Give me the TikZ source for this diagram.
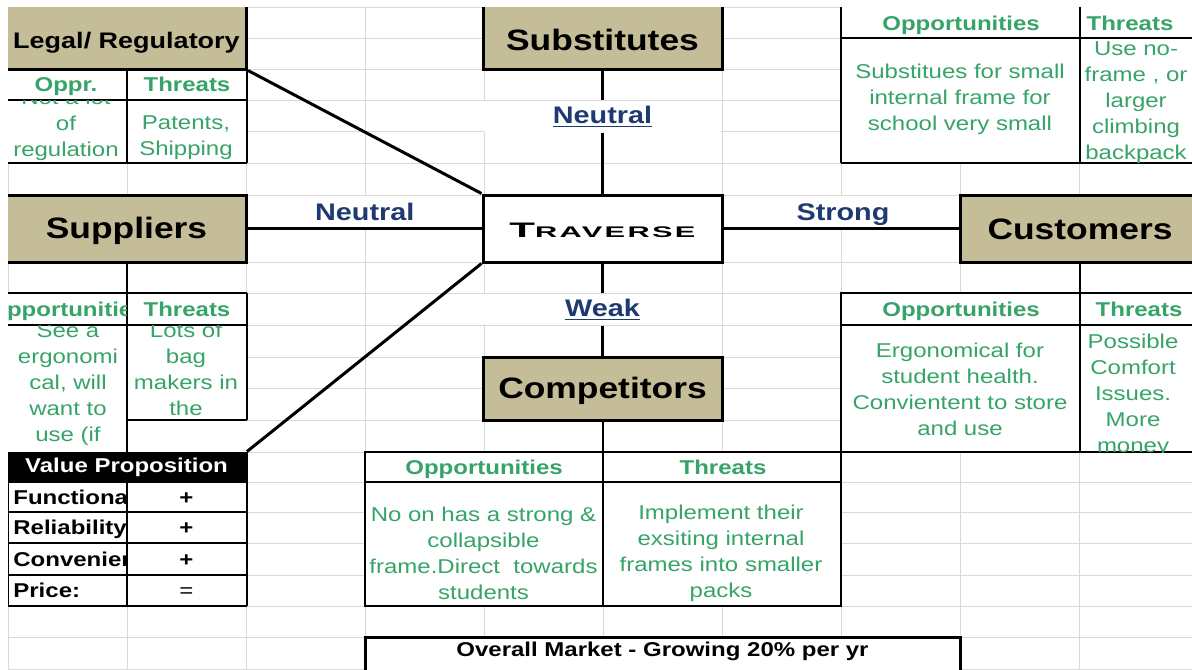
\documentclass[tikz,border=0pt]{standalone}
\usepackage{fontspec}
\setmainfont{Liberation Sans}[FakeStretch=1.2]
\newfontfamily\travfont{Liberation Sans}[FakeStretch=2.0,LetterSpace=15]

\definecolor{boxtan}{HTML}{C4BD97}
\definecolor{swotgreen}{HTML}{36A468}
\definecolor{relblue}{HTML}{1F3A70}
\definecolor{gridgrey}{HTML}{D9D9D9}

\tikzset{
  gridline/.style={draw=gridgrey, line width=0.5pt},
  tabline/.style={line width=1pt},
  link/.style={line width=1.5pt},
  force/.style={draw, line width=1.5pt, fill=boxtan, inner sep=0pt, text height=10pt, text depth=0pt,
    font=\bfseries\fontsize{14.75}{17}\selectfont},
  rel/.style={text=relblue, inner sep=0pt, font=\bfseries\fontsize{12}{14}\selectfont},
  head/.style={text=swotgreen, inner sep=0pt, text height=7.5pt, text depth=0.5pt,
    font=\bfseries\fontsize{10}{13}\selectfont},
  body/.style={text=swotgreen, inner sep=0pt, align=center, font=\fontsize{10}{13}\selectfont},
  vprow/.style={anchor=west, inner sep=0pt, text height=7.5pt, text depth=0.5pt,
    font=\bfseries\fontsize{10}{13}\selectfont},
}

\begin{document}
\begin{tikzpicture}[x=0.5pt,y=-0.5pt]
\useasboundingbox (0,0) rectangle (1192,669);
\begin{scope}
\clip (8,7) rectangle (1192,669);
% sheet grid
\foreach \y in {7,38,69,100,131,163,195,228,262,293,325,357,388,420,452,482,512,543,575,606,637,669}
  \draw[gridline] (8,\y) -- (1198,\y);
\foreach \x in {8,127,...,1198}
  \draw[gridline] (\x,7) -- (\x,669);

% merged cells
\fill[white] (8,69) rectangle (246.5,163);
\fill[white] (841,7) rectangle (1200,163);
\fill[white] (8,293) rectangle (246.5,452);
\fill[white] (8,482) rectangle (246.5,606);
\fill[white] (841,293) rectangle (1200,452);
\fill[white] (365,452) rectangle (841,606);
\fill[white] (484,101) rectangle (721,132);
\fill[white] (484,294) rectangle (721,324);
\fill[white] (247,196) rectangle (482,227);
\fill[white] (723,196) rectangle (959,227);

% tables
\draw[tabline] (6,100) -- (246.5,100) (6,163) -- (246.5,163) (126.5,69) -- (126.5,163) (246.5,69) -- (246.5,163);
\draw[tabline] (841,4) -- (841,163) (841,38) -- (1200,38) (841,163) -- (1200,163) (1079.5,4) -- (1079.5,163);
\draw[tabline] (6,293) -- (246.5,293) (6,325) -- (246.5,325) (126.5,420) -- (246.5,420) (246.5,293) -- (246.5,420);
\draw[tabline] (8,452) -- (8,606) (246.5,452) -- (246.5,606) (126.5,482) -- (126.5,606);
\foreach \y in {482,512,543,575,606}
  \draw[tabline] (6,\y) -- (246.5,\y);
\draw[tabline] (841,293) rectangle (1200,452) (841,325) -- (1200,325);
\draw[tabline] (365,452) rectangle (841,606) (365,482) -- (841,482);
\draw[line width=1.5pt, fill=white] (365,637) rectangle (960,675);

% five forces
\node[force, minimum width=120pt, minimum height=32.5pt, text height=11.5pt,
  font=\bfseries\fontsize{11.25}{13}\selectfont] (legal) at (126.5,36.5) {Legal/ Regulatory};
\node[force, minimum width=119.5pt, minimum height=32.5pt, text height=13.5pt] (subst) at (602.5,36.5) {Substitutes};
\node[force, minimum width=120pt, minimum height=33.5pt, text height=9.5pt] (supp) at (126.5,228.5) {Suppliers};
\node[force, fill=white, minimum width=119.5pt, minimum height=33.5pt, text height=8.5pt, font=\travfont\bfseries] (trav) at (602.5,228.5)
  {{\fontsize{10.5}{12}\selectfont T}\fontsize{7.7}{9}\selectfont RAVERSE};
\node[force, minimum width=120pt, minimum height=33.5pt, text height=10.5pt] (cust) at (1080,228.5) {Customers};
\node[force, minimum width=119.5pt, minimum height=31.5pt, text height=9.5pt] (comp) at (602.5,388.5) {Competitors};
\node[fill=black, text=white, inner sep=0pt, minimum width=120pt, minimum height=15pt,
  font=\bfseries\fontsize{10}{13}\selectfont] (vphead) at (126.5,467) {Value Proposition};

\draw[tabline] (supp.south) -- (126.5,452);
\draw[tabline] (cust.south) -- (1080,452);
\draw[tabline] (comp.south) -- (602.5,606);

% relations
\node[rel, minimum height=16.5pt] (lnsub) at (602.5,116.5) {\underline{Neutral}};
\node[rel, minimum height=16pt] (lweak) at (602.5,309.5) {\underline{Weak}};
\draw[link] (subst) -- (lnsub);
\draw[link] (lnsub) -- (trav);
\draw[link] (trav) -- (lweak);
\draw[link] (lweak) -- (comp);
\draw[link] (supp) -- node[rel, above=3.5pt, text depth=0pt] (lnsup) {Neutral} (trav);
\draw[link] (trav) -- node[rel, above=3.5pt, text depth=0pt, xshift=1pt] (lstrong) {Strong} (cust);
\draw[link] (legal.south east) -- (trav.north west);
\draw[link] (trav.south west) -- (vphead.north east);

% legal / regulatory
\node[head] (legopph) at (66,84.5) {Oppr.};
\node[head] (legthrh) at (187,84.5) {Threats};
\begin{scope}
\clip (8,100) rectangle (126.5,163);
\node[body] (legopp) at (66,125) {Not a lot\\of\\regulation};
\end{scope}
\node[body] (legthr) at (186,138) {Patents,\\Shipping};

% substitutes
\node[head] (subopph) at (961,23) {Opportunities};
\node[head] (subthrh) at (1130,23) {Threats};
\node[body] (subopp) at (960,99.5) {Substitues for small\\internal frame for\\school very small};
\begin{scope}
\clip (1079.5,38) rectangle (1200,163);
\node[body] (subthr) at (1136,103) {Use no-\\frame , or\\larger\\climbing\\backpack};
\end{scope}

% suppliers
\begin{scope}
\clip (8,293) rectangle (126.5,325);
\node[head] (supopph) at (67,309) {Opportunities};
\end{scope}
\node[head] (supthrh) at (187,309) {Threats};
\begin{scope}
\clip (8,325) rectangle (126.5,452);
\node[body] (supopp) at (68,385) {See a\\ergonomi\\cal, will\\want to\\use (if};
\end{scope}
\begin{scope}
\clip (126.5,325) rectangle (246.5,420);
\node[body] (supthr) at (186,369) {Lots of\\bag\\makers in\\the};
\end{scope}

% value proposition
\begin{scope}
\clip (8,482) rectangle (126.5,606);
\node[vprow] (vpfun) at (13,497) {Functional};
\node[vprow] (vprel) at (13,527.5) {Reliability};
\node[vprow] (vpcon) at (13,559) {Convenience};
\node[vprow] (vppri) at (13,590.5) {Price:};
\end{scope}
\node[vprow, anchor=center] (vpfunv) at (186.5,497) {+};
\node[vprow, anchor=center] (vprelv) at (186.5,527.5) {+};
\node[vprow, anchor=center] (vpconv) at (186.5,559) {+};
\node[vprow, anchor=center, font=\fontsize{10}{13}\selectfont] (vppriv) at (186.5,590.5) {=};

% customers
\node[head] (cusopph) at (961,309) {Opportunities};
\node[head] (custhrh) at (1139,309) {Threats};
\node[body] (cusopp) at (960,389) {Ergonomical for\\student health.\\Convientent to store\\and use};
\begin{scope}
\clip (1080,325) rectangle (1200,452);
\node[body] (custhr) at (1133,395) {Possible\\Comfort\\Issues.\\More\\money};
\end{scope}

% competitors
\node[head] (comopph) at (484,467) {Opportunities};
\node[head] (comthrh) at (723,467) {Threats};
\node[body] (comopp) at (483.5,553) {No on has a strong \&\\collapsible\\frame.Direct~ towards\\students};
\node[body] (comthr) at (721,553) {Implement their\\exsiting internal\\frames into smaller\\packs};

\node[inner sep=0pt, font=\bfseries\fontsize{10}{13}\selectfont] (market) at (662.5,651) {Overall Market - Growing 20\% per yr};
\end{scope}
\end{tikzpicture}
\end{document}
